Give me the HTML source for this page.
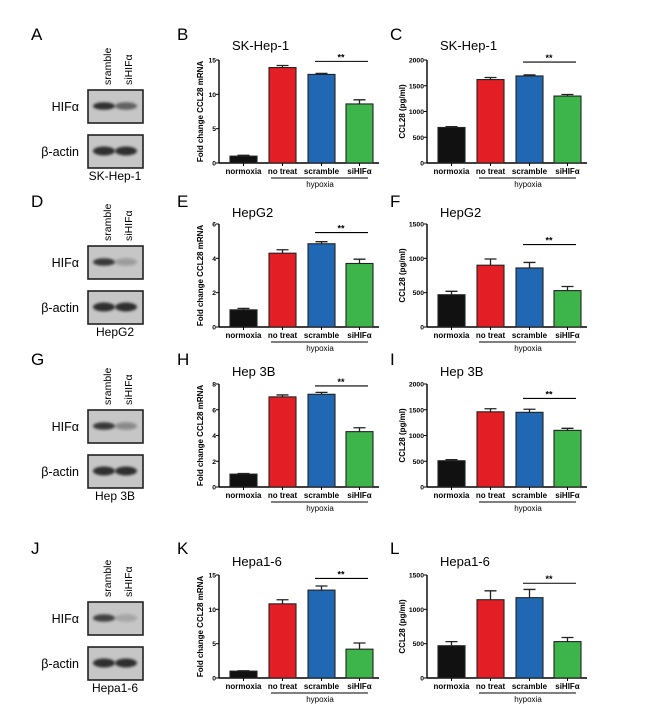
<!DOCTYPE html>
<html><head><meta charset="utf-8"><style>
html,body{margin:0;padding:0;background:#fff;}
svg{display:block;font-family:"Liberation Sans",Arial,sans-serif;}
</style></head><body>
<svg id="fig" width="650" height="712" viewBox="0 0 650 712">
<defs><filter id="blur" x="-30%" y="-50%" width="160%" height="200%"><feGaussianBlur stdDeviation="1.2"/></filter></defs>
</svg>
<script>
const categories = ["normoxia","no treat","scramble","siHIFα"];
const colors = ["#111111","#e31e24","#2068b3","#3db54a"];
const cellLines = ["SK-Hep-1","HepG2","Hep 3B","Hepa1-6"];
const mrnaValues = [[1.0,13.9,12.9,8.6],[1.0,4.3,4.85,3.7],[1.0,7.0,7.2,4.3],[1.0,10.8,12.8,4.2]];
const mrnaErrors = [[0.12,0.3,0.15,0.6],[0.08,0.2,0.12,0.25],[0.05,0.15,0.15,0.3],[0.05,0.6,0.6,0.9]];
const mrnaMax = [15,6,8,15];
const mrnaStep = [5,2,2,5];
const mrnaSig = [14.8,5.5,7.85,14.5];
const elisaValues = [[690,1620,1690,1300],[470,900,860,530],[510,1460,1450,1100],[470,1140,1170,530]];
const elisaErrors = [[15,40,20,30],[50,90,80,60],[20,60,60,40],[60,130,120,60]];
const elisaMax = [2000,1500,2000,1500];
const elisaStep = [500,500,500,500];
const elisaSig = [1960,1200,1720,1380];
const hifIntensity = [[0.9,0.6],[0.85,0.25],[0.85,0.35],[0.8,0.2]];

const NS="http://www.w3.org/2000/svg";
const svg=document.getElementById('fig');
function mk(tag,attrs,parent,text){const e=document.createElementNS(NS,tag);for(const k in attrs)e.setAttribute(k,attrs[k]);if(text!==undefined)e.textContent=text;(parent||svg).appendChild(e);return e;}

const rowZero=[163,327,487,678];
const rowLetter=[40,207,365,554];
const rowTitle=[50,217,376,566];
const rowBlot=[90,246,410,602];
const letters=[["A","B","C"],["D","E","F"],["G","H","I"],["J","K","L"]];
const plotH=103;
const barOff=[11,50,89,127]; const barW=27;

function chart(r,ax,vals,errs,ymax,step,sig,ytitle,titleOff,name){
  const g=mk('g',{},svg);
  
  
  const zero=rowZero[r], top=zero-plotH;
  const y=v=>zero-v/ymax*plotH;
  const ya=mk('line',{x1:ax,y1:top,x2:ax,y2:zero,stroke:'#000','stroke-width':1.4},g);
  
  const xa=mk('line',{x1:ax,y1:zero,x2:ax+160,y2:zero,stroke:'#000','stroke-width':1.4},g);
  
  for(let v=0;v<=ymax+1e-9;v+=step){
    mk('line',{x1:ax-3,y1:y(v),x2:ax,y2:y(v),stroke:'#000','stroke-width':1},g);
    const t=mk('text',{x:ax-3,y:y(v)+2.5,'font-size':6.8,'font-weight':'bold','text-anchor':'end'},g,String(v));
    
  }
  const yt=mk('text',{x:0,y:0,'font-size':8,'font-weight':'bold','text-anchor':'middle',transform:`translate(${ax-titleOff},${(top+zero)/2}) rotate(-90)`},g,ytitle);
  
  vals.forEach((v,i)=>{
    const x0=ax+barOff[i];
    const b=mk('rect',{x:x0,y:y(v),width:barW,height:zero-y(v),fill:colors[i],stroke:'#222','stroke-width':1.1},g);
    
    const cx=x0+barW/2;
    const e=mk('path',{d:`M${cx},${y(v)}V${y(v+errs[i])}M${cx-6},${y(v+errs[i])}H${cx+6}`,stroke:'#222','stroke-width':1.3,fill:'none'},g);
    
    mk('line',{x1:cx,y1:zero,x2:cx,y2:zero+3,stroke:'#000','stroke-width':1},g);
    const cl=mk('text',{x:cx,y:zero+11,'font-size':8,'font-weight':'bold','text-anchor':'middle'},g,categories[i]);
    
  });
  const hl=mk('line',{x1:ax+52,y1:zero+15,x2:ax+149,y2:zero+15,stroke:'#000','stroke-width':1},g);
  
  const ht=mk('text',{x:ax+101,y:zero+24,'font-size':8,'text-anchor':'middle'},g,'hypoxia');
  
  const sl=mk('line',{x1:ax+96,y1:y(sig),x2:ax+149,y2:y(sig),stroke:'#000','stroke-width':1.1},g);
  
  const st=mk('text',{x:ax+122,y:y(sig)-1,'font-size':9,'font-weight':'bold','text-anchor':'middle'},g,'**');
  
  const tt=mk('text',{x:ax+13,y:rowTitle[r],'font-size':13},g,cellLines[r]);
  
}

function blot(r){
  const g=mk('g',{},svg);
  
  
  const by=rowBlot[r];
  const l1=mk('text',{x:0,y:0,'font-size':10.5,transform:`translate(111,${by-5}) rotate(-90)`},g,'sramble');
  
  const l2=mk('text',{x:0,y:0,'font-size':10.5,transform:`translate(132,${by-5}) rotate(-90)`},g,'siHIFα');
  
  [[by,'HIFα',hifIntensity[r]],[by+45,'β-actin',[0.9,0.9]]].forEach(([yy,lab,ints],k)=>{
    const box=mk('rect',{x:88,y:yy,width:55,height:33,fill:'#c6c6c6',stroke:'#222','stroke-width':1.6},g);
    
    ints.forEach((a,j)=>{
      mk('ellipse',{cx:104+j*22,cy:yy+16,rx:11,ry:k?4.5:3.8,fill:`rgba(30,30,30,${a})`,filter:'url(#blur)'},g);
    });
    const t=mk('text',{x:79,y:yy+21,'font-size':12.5,'text-anchor':'end'},g,lab);
    
  });
  const cl=mk('text',{x:115,y:by+90,'font-size':12,'text-anchor':'middle'},g,cellLines[r]);
  
}

for(let r=0;r<4;r++){
  [[31,letters[r][0]],[177,letters[r][1]],[390,letters[r][2]]].forEach(([x,L])=>{
    const t=mk('text',{x:x,y:rowLetter[r],'font-size':17},svg,L);
    
  });
  blot(r);
  chart(r,219,mrnaValues[r],mrnaErrors[r],mrnaMax[r],mrnaStep[r],mrnaSig[r],'Fold change CCL28 mRNA',16,'mrna-chart-'+(r+1));
  chart(r,427,elisaValues[r],elisaErrors[r],elisaMax[r],elisaStep[r],elisaSig[r],'CCL28 (pg/ml)',22,'elisa-chart-'+(r+1));
}
</script>
</body></html>
